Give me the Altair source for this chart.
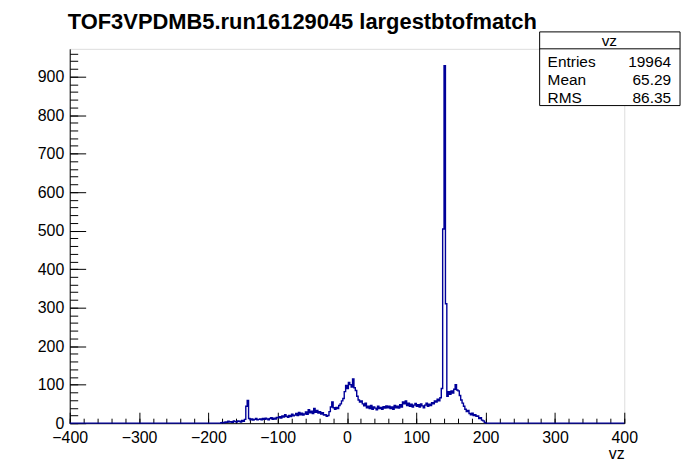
import altair as alt
import pandas as pd

# ---- data (bin width 2, first bin edge -182) ----
BIN_WIDTH = 2
FIRST_EDGE = -182
counts_left = [1, 2, 1, 3, 2, 5, 3, 4, 2, 6,
               4, 3, 6, 5, 3, 7, 5, 10, 44, 59,
               12, 9, 11, 8, 10, 12, 9, 10, 11, 9,
               12, 10, 13, 11, 9, 12, 14, 10, 13, 11,
               15]
counts_rise = [14, 17, 13, 19, 16, 22, 18, 15, 20, 17,
               23, 19, 21, 25, 20, 28, 22, 26, 21, 24,
               29, 23, 35, 27, 31, 25, 38, 28, 33, 26,
               30, 24, 27, 21]
counts_center = [22, 18, 20, 30, 42, 55, 40, 36, 41, 38,
                 46, 50, 58, 64, 82, 98, 90, 106, 100, 94,
                 115, 92, 85, 70, 60, 55, 58, 50]
counts_plateau = [45, 52, 40, 44, 38, 46, 36, 42, 39, 35,
                  44, 38, 41, 36, 43, 39, 45, 40, 44, 38,
                  42, 36, 46, 40, 44, 39, 48, 42, 55, 50,
                  58, 46, 52, 44, 49, 42, 47, 51, 44, 48,
                  42, 50, 45, 40, 47, 52, 44, 49, 46, 53,
                  50, 58, 55, 62, 58, 66]
counts_peak = [90, 504, 928, 310, 70, 82, 75, 84, 78, 88,
               100, 86, 84, 72, 60, 52, 44, 36, 30, 33,
               25, 22, 26, 20, 22, 18, 19, 12, 14, 8,
               6, 2]

x_range = [-400, 400]
y_max = 972
x_major = [-400, -300, -200, -100, 0, 100, 200, 300, 400]
x_minor = list(range(-400, 401, 20))
y_major = [0, 100, 200, 300, 400, 500, 600, 700, 800, 900]
y_minor = list(range(0, 961, 20))

title_text = "TOF3VPDMB5.run16129045 largestbtofmatch"
stats_header = "vz"
stats_names = ["Entries", "Mean", "RMS"]
stats_values = ["19964", "65.29", "86.35"]

# ---- build histogram table ----
counts = counts_left + counts_rise + counts_center + counts_plateau + counts_peak
rows = []
for e in range(x_range[0], x_range[1], BIN_WIDTH):
    i = (e - FIRST_EDGE) // BIN_WIDTH
    v = counts[i] if (e >= FIRST_EDGE and 0 <= i < len(counts)) else 0
    rows.append({"vz": e, "n": v})
rows.append({"vz": x_range[1], "n": 0})
df = pd.DataFrame(rows)

W, H = 557, 376
FONT = "Liberation Sans"
LINE = "#000099"

xs = alt.Scale(domain=x_range, nice=False, zero=False)
ys = alt.Scale(domain=[0, y_max], nice=False, zero=True)

base = alt.Chart(df)

hist = base.mark_line(interpolate="step-after", color=LINE, strokeWidth=1.4).encode(
    x=alt.X("vz:Q", scale=xs, axis=alt.Axis(
        values=x_major, ticks=False, tickSize=0, grid=False, domain=True,
        domainColor="black", labelFont=FONT, labelFontSize=16, labelColor="black",
        labelPadding=6, labelFlush=False, title="vz", titleAnchor="end",
        titleFont=FONT, titleFontSize=16, titleFontWeight="normal",
        titleColor="black", titlePadding=0, format="d")),
    y=alt.Y("n:Q", scale=ys, axis=alt.Axis(
        values=y_major, ticks=False, tickSize=0, grid=False, domain=True,
        domainColor="black", labelFont=FONT, labelFontSize=16, labelColor="black",
        labelPadding=6, labelFlush=False, title=None, format="d")),
)

def tick_layer(xv, yv, xsize, ysize):
    return base.mark_line(opacity=0).encode(
        x=alt.X("vz:Q", scale=xs, axis=alt.Axis(
            orient="top", offset=-H, values=xv, labels=False, domain=False,
            grid=False, ticks=True, tickSize=xsize, tickColor="black", title=None)),
        y=alt.Y("n:Q", scale=ys, axis=alt.Axis(
            orient="right", offset=-W, values=yv, labels=False, domain=False,
            grid=False, ticks=True, tickSize=ysize, tickColor="black", title=None)),
    )

major_ticks = tick_layer(x_major, y_major, 11, 16)
minor_ticks = tick_layer(x_minor, y_minor, 5, 8)

one = alt.Chart(pd.DataFrame({"k": [0]}))

title_mark = one.mark_text(
    text=title_text, font=FONT, fontSize=22, fontWeight="bold", color="black",
    align="left", baseline="alphabetic").encode(x=alt.value(-2), y=alt.value(-20))

box = one.mark_rect(fill="white", stroke="black", strokeWidth=1).encode(
    x=alt.value(472), x2=alt.value(613), y=alt.value(-17), y2=alt.value(57))
sep = one.mark_rule(color="black", strokeWidth=1).encode(
    x=alt.value(472), x2=alt.value(613), y=alt.value(0))
head = one.mark_text(text=stats_header, font=FONT, fontSize=15.5, color="black",
                     align="center", baseline="middle").encode(
    x=alt.value(542), y=alt.value(-8))

stat_layers = []
for k, (nm, val) in enumerate(zip(stats_names, stats_values)):
    yy = 13.5 + 18 * k
    stat_layers.append(one.mark_text(text=nm, font=FONT, fontSize=15.5, color="black",
                                     align="left", baseline="middle").encode(
        x=alt.value(480), y=alt.value(yy)))
    stat_layers.append(one.mark_text(text=val, font=FONT, fontSize=15.5, color="black",
                                     align="right", baseline="middle").encode(
        x=alt.value(604), y=alt.value(yy)))

chart = alt.layer(
    hist, major_ticks, minor_ticks, title_mark, box, sep, head, *stat_layers
).resolve_axis(x="independent", y="independent").properties(
    width=W, height=H,
    autosize=alt.AutoSizeParams(type="none"),
    padding={"left": 62, "top": 40, "right": 64, "bottom": 40},
).configure_view(stroke="black", strokeWidth=1).configure(background="white")

chart.save("out.html", embed_options={"renderer": "svg", "actions": False})
